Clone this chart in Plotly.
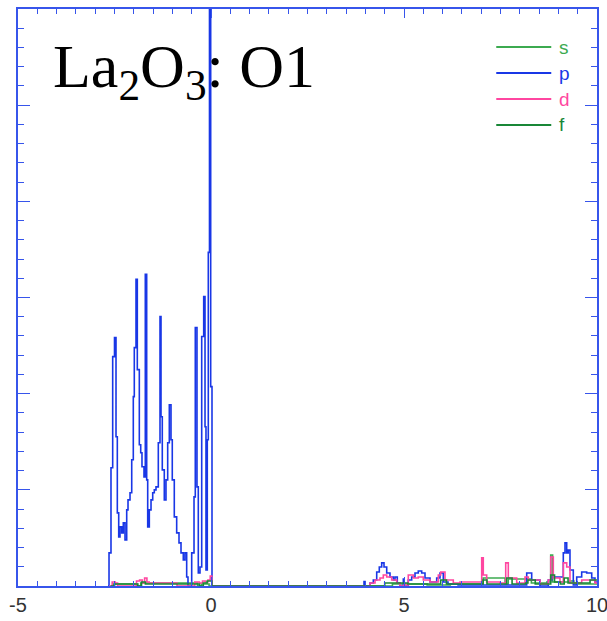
import plotly.graph_objects as go

# Projected DOS of the O1 site in La2O3 (arbitrary units) vs energy (eV)

# O-p: valence band between -2.7 and 0 eV, then the weak conduction-band tail
p_energy = [
    -2.668, -2.642, -2.591, -2.547, -2.500, -2.461, -2.427, -2.391, -2.358, -2.314,
    -2.272, -2.228, -2.184, -2.150, -2.098, -2.054, -2.013, -1.987, -1.943, -1.909,
    -1.857, -1.821, -1.788, -1.736, -1.702, -1.666, -1.640, -1.598, -1.554, -1.510,
    -1.469, -1.425, -1.365, -1.321, -1.295, -1.262, -1.210, -1.166, -1.122, -1.080,
    -1.036, -1.003, -0.951, -0.889, -0.829, -0.777, -0.718, -0.674, -0.630, -0.596,
    -0.518, -0.500, -0.440, -0.407, -0.363, -0.329, -0.285, -0.241, -0.189, -0.155,
    -0.130, -0.096, -0.070, -0.039, -0.008, 0.026,
    3.940, 3.964, 3.990, 4.119, 4.205, 4.293, 4.360, 4.422, 4.482, 4.552,
    4.637, 4.723, 4.767, 4.826, 4.896, 4.982, 5.005, 5.111, 5.199, 5.285,
    5.370, 5.458, 5.544, 5.674, 5.847, 5.933, 6.018, 6.140, 6.400, 8.083,
    8.179, 8.308, 8.523, 8.738, 8.826, 9.127, 9.171, 9.215, 9.256, 9.300,
    9.386, 9.474, 9.603, 9.733, 9.863, 9.948, 10.000,
]
p_dos = [
    0.000, 0.344, 1.229, 2.385, 2.583, 1.552, 0.760, 0.510, 0.615, 0.552,
    0.656, 0.479, 0.792, 0.896, 0.969, 1.313, 1.969, 2.479, 3.188, 2.250,
    1.469, 1.385, 1.240, 1.135, 3.240, 1.104, 0.615, 0.792, 0.896, 0.969,
    1.000, 1.031, 1.490, 2.802, 1.760, 1.208, 0.896, 1.104, 1.490, 1.885,
    1.521, 1.104, 0.719, 0.552, 0.448, 0.344, 0.271, 0.344, 0.094, 0.000,
    0.000, 0.344, 0.927, 2.688, 1.031, 0.135, 0.198, 2.594, 3.010, 1.656,
    0.167, 1.521, 3.469, 7.000, 2.073, 0.000,
    0.000, 0.045, 0.000, 0.031, 0.063, 0.146, 0.198, 0.240, 0.198, 0.135,
    0.094, 0.063, 0.094, 0.031, 0.000, 0.073, 0.000, 0.063, 0.094, 0.135,
    0.156, 0.135, 0.083, 0.042, 0.083, 0.135, 0.042, 0.021, 0.010, 0.010,
    0.135, 0.063, 0.000, 0.063, 0.094, 0.344, 0.448, 0.344, 0.375, 0.167,
    0.010, 0.094, 0.146, 0.135, 0.083, 0.042, 0.042,
]

# O-d
d_energy = [
    -2.640, -2.560, -2.480, -2.420, -1.990, -1.930, -1.850, -1.780, -1.720, -1.660,
    -1.600, -1.200, -0.880, -0.500, -0.420, -0.300, -0.220, -0.150, -0.080, -0.020,
    0.020, 4.119, 4.249, 4.378, 4.464, 4.552, 4.681, 4.811, 4.896, 5.000,
    5.111, 5.241, 5.370, 5.500, 5.674, 5.889, 5.951, 6.062, 6.277, 6.450,
    7.013, 7.054, 7.142, 7.487, 7.635, 7.702, 7.920, 8.135, 8.220, 8.523,
    8.738, 8.801, 8.868, 9.041, 9.127, 9.215, 9.300, 9.474, 9.603, 9.819,
    9.948, 10.000,
]
d_dos = [
    0.000, 0.042, 0.031, 0.000, 0.000, 0.052, 0.063, 0.031, 0.083, 0.042,
    0.031, 0.031, 0.000, 0.000, 0.042, 0.031, 0.052, 0.042, 0.063, 0.104,
    0.000, 0.031, 0.063, 0.083, 0.115, 0.094, 0.063, 0.031, 0.000, 0.010,
    0.115, 0.083, 0.094, 0.063, 0.042, 0.115, 0.146, 0.063, 0.031, 0.042,
    0.292, 0.115, 0.042, 0.031, 0.240, 0.083, 0.031, 0.094, 0.063, 0.021,
    0.063, 0.302, 0.083, 0.042, 0.240, 0.198, 0.031, 0.031, 0.063, 0.063,
    0.031, 0.031,
]

# O-s
s_energy = [
    -2.600, -2.520, -1.900, -1.820, -0.350, -0.250, -0.050, 4.200, 4.700, 5.600,
    6.200, 7.000, 7.050, 7.620, 7.700, 8.300, 8.700, 8.801, 8.850, 9.000,
    9.300, 9.400, 10.000,
]
s_dos = [
    0.000, 0.021, 0.000, 0.031, 0.000, 0.021, 0.000, 0.000, 0.021, 0.010,
    0.021, 0.021, 0.083, 0.021, 0.073, 0.031, 0.042, 0.323, 0.042, 0.042,
    0.052, 0.021, 0.021,
]

# O-f
f_energy = [
    -2.600, -2.500, -1.900, -1.800, -1.700, -0.300, -0.200, -0.100, 0.020, 4.300,
    4.500, 5.100, 5.800, 5.950, 6.100, 6.900, 7.050, 7.150, 7.600, 7.660,
    7.800, 8.150, 8.210, 8.400, 8.700, 8.801, 8.900, 9.050, 9.150, 9.250,
    9.600, 9.820, 10.000,
]
f_dos = [
    0.000, 0.021, 0.000, 0.042, 0.021, 0.000, 0.031, 0.052, 0.000, 0.000,
    0.031, 0.021, 0.021, 0.063, 0.021, 0.021, 0.063, 0.021, 0.021, 0.083,
    0.021, 0.031, 0.063, 0.021, 0.021, 0.115, 0.042, 0.021, 0.083, 0.031,
    0.031, 0.063, 0.063,
]

x_ticks = [-5, 0, 5, 10]
x_ticklabels = ["-5", "0", "5", "10"]

AXIS_BLUE = "rgb(55,85,235)"
series = [
    ("s", s_energy, s_dos, "rgb(60,170,80)"),
    ("p", p_energy, p_dos, "rgb(25,55,230)"),
    ("d", d_energy, d_dos, "rgb(255,70,160)"),
    ("f", f_energy, f_dos, "rgb(25,135,55)"),
]

fig = go.Figure()
for name, xs, ys, color in series:
    fig.add_trace(go.Scatter(
        x=xs, y=ys, mode="lines",
        line=dict(color=color, width=1.6, shape="hv"),
        name=name, showlegend=False,
    ))

# key in the upper-right corner: a line sample and a coloured letter per orbital
key_x0, key_x1, key_text_x = 0.826, 0.921, 0.931
key_y0, key_dy = 0.934, 0.045
for i, (name, _, _, color) in enumerate(series):
    ky = key_y0 - i * key_dy
    fig.add_shape(type="line", xref="paper", yref="paper",
                  x0=key_x0, x1=key_x1, y0=ky, y1=ky,
                  line=dict(color=color, width=2))
    fig.add_annotation(text=name, xref="paper", yref="paper",
                       x=key_text_x, y=ky, xanchor="left", yanchor="middle",
                       showarrow=False,
                       font=dict(family="Liberation Sans", size=19, color=color))

axis_common = dict(
    showline=True, linecolor=AXIS_BLUE, linewidth=1.5, mirror="ticks",
    ticks="inside", tickcolor=AXIS_BLUE, tickwidth=1.3,
    showgrid=False, zeroline=False, automargin=False,
)
fig.update_xaxes(
    range=[-5, 10], tickmode="array", tickvals=x_ticks, ticktext=x_ticklabels,
    ticklen=9, minor=dict(dtick=0.5, ticks="inside", ticklen=5, tickcolor=AXIS_BLUE),
    tickfont=dict(family="Liberation Sans", size=20, color="#333333"),
    ticklabeloverflow="allow",
    **axis_common,
)
fig.update_yaxes(
    range=[0, 6], dtick=1, showticklabels=False, ticklen=12,
    minor=dict(dtick=0.2, ticks="inside", ticklen=6, tickcolor=AXIS_BLUE),
    **axis_common,
)

fig.add_annotation(
    text="La<sub>2</sub>O<sub>3</sub>: O1", xref="paper", yref="paper",
    x=0.057, y=0.963, xanchor="left", yanchor="top", showarrow=False,
    font=dict(family="Liberation Serif", size=62, color="black"),
)

fig.update_layout(
    width=607, height=621,
    margin=dict(l=18, r=10, t=9, b=35),
    paper_bgcolor="white", plot_bgcolor="white",
    showlegend=False,
)

fig.write_html("out.html")
